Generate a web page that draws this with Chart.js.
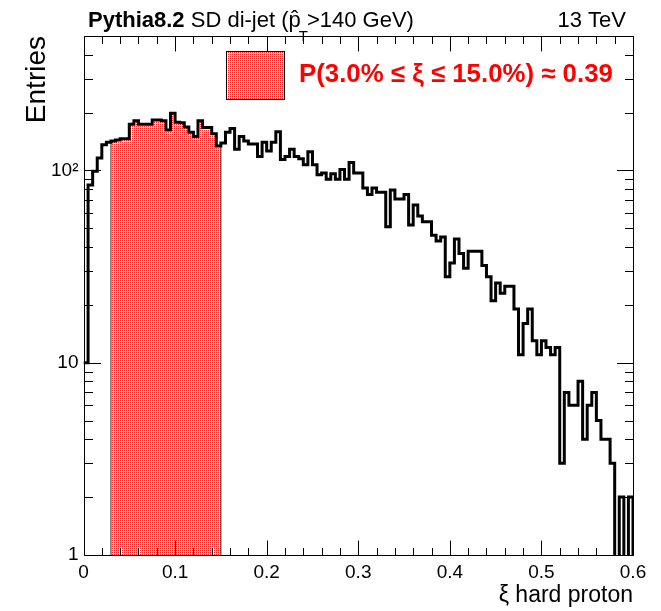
<!DOCTYPE html>
<html>
<head>
<meta charset="utf-8">
<script src="https://cdn.jsdelivr.net/npm/chart.js@4/dist/chart.umd.min.js"></script>
<style>
html,body{margin:0;padding:0;background:#fff;}
#wrap{width:661px;height:611px;position:relative;}
</style>
</head>
<body>
<div id="wrap"><canvas id="c" width="661" height="611"></canvas></div>
<script>
// ---------------- data ----------------
const xMin = 0, xMax = 0.6, binWidth = 0.005;
const counts = [
  10, 84, 99, 116, 136, 140, 142, 144, 146, 146,
  174, 181, 174, 174, 174, 183, 183, 181, 162, 198,
  178, 177, 168, 158, 150, 181, 167, 167, 155, 134,
  139, 158, 165, 129, 150, 142, 137, 137, 118, 140,
  126, 140, 159, 114, 118, 129, 118, 115, 107, 125,
  107, 95, 97, 90, 96, 90, 101, 90, 110, 97,
  97, 81, 75, 81, 77, 77, 51, 79, 71, 71,
  75, 52, 66, 58, 54, 54, 46, 43, 45, 28,
  33, 44, 37, 31, 38, 38, 38, 32, 28, 21,
  26, 23, 25, 25, 19, 11, 16, 19, 13, 11,
  13, 12, 11, 12, 3, 7, 6, 6, 8, 4,
  6, 7, 5, 4, 4, 3, 0, 2, 0, 2
];
const selLow = 0.03, selHigh = 0.15;
const xTickValues = [0, 0.1, 0.2, 0.3, 0.4, 0.5, 0.6];
const xTickLabels = ['0', '0.1', '0.2', '0.3', '0.4', '0.5', '0.6'];
const yTickValues = [1, 10, 100];
const yTickLabels = ['1', '10', '10²'];
const yMin = 1, yMax = 500;
const titleBold = 'Pythia8.2';
const titleRest = ' SD di-jet (';
const titleAfter = '>140 GeV)';
const energyLabel = '13 TeV';
const probLabel = 'P(3.0% \u2264 \u03BE \u2264 15.0%) \u2248 0.39';
const xTitle = '\u03BE hard proton';
const yTitle = 'Entries';

// ---------------- build ----------------
const FONT = '"Liberation Sans", Arial, Helvetica, sans-serif';
const edges = counts.map((_, i) => +(xMin + i * binWidth).toFixed(4));
const zeroDraw = 0.5; // zero bins drawn below the log-axis floor
const dv = v => (v > 0 ? v : zeroDraw);

const histPts = counts.map((v, i) => ({x: edges[i], y: dv(v)}));
histPts.push({x: xMax, y: dv(counts[counts.length - 1])});
histPts.push({x: xMax, y: zeroDraw});

const selPts = [];
counts.forEach((v, i) => {
  if (edges[i] >= selLow - 1e-9 && edges[i] < selHigh - 1e-9) {
    if (selPts.length === 0) selPts.push({x: edges[i], y: zeroDraw});
    selPts.push({x: edges[i], y: dv(v)});
  }
});
selPts.push({x: selHigh, y: selPts[selPts.length - 1].y});
selPts.push({x: selHigh, y: zeroDraw});

const ctx0 = document.getElementById('c').getContext('2d');
function makePattern() {
  const c = document.createElement('canvas');
  c.width = 2; c.height = 2;
  const g = c.getContext('2d');
  g.fillStyle = '#ffeeee'; g.fillRect(0, 0, 2, 2);
  g.fillStyle = '#ff2020'; g.fillRect(0, 0, 1, 1);
  return ctx0.createPattern(c, 'repeat');
}
const redPattern = makePattern();

const px = v => Math.round(v) + 0.5;

const decor = {
  id: 'decor',
  afterDatasetsDraw(chart) {
    const {ctx, chartArea: a, scales: {x, y}} = chart;
    ctx.save();
    ctx.strokeStyle = '#000';
    ctx.lineWidth = 1;
    const L = px(a.left), R = px(a.right), T = px(a.top), B = px(a.bottom);
    ctx.beginPath();
    ctx.rect(L, T, R - L, B - T);
    ctx.stroke();
    // x ticks (inside, bottom and top)
    ctx.beginPath();
    for (let i = 0; i <= 30; i++) {
      const v = i * 0.02;
      const major = i % 5 === 0;
      const p = px(x.getPixelForValue(v));
      const len = major ? 15 : 7.5;
      ctx.moveTo(p, B); ctx.lineTo(p, B - len);
      ctx.moveTo(p, T); ctx.lineTo(p, T + len);
    }
    // y ticks (inside, left and right)
    for (let e = 0; e <= 2; e++) {
      for (let d = 1; d <= 9; d++) {
        const v = d * Math.pow(10, e);
        if (v > yMax) continue;
        const p = px(y.getPixelForValue(v));
        const len = d === 1 ? 16.5 : 8.5;
        ctx.moveTo(L, p); ctx.lineTo(L + len, p);
        ctx.moveTo(R, p); ctx.lineTo(R - len, p);
      }
    }
    ctx.stroke();
    ctx.restore();
  },
  afterDraw(chart) {
    const {ctx} = chart;
    ctx.save();
    // title
    ctx.fillStyle = '#000';
    ctx.textBaseline = 'alphabetic';
    ctx.textAlign = 'left';
    const by = 27;
    let xx = 88;
    ctx.font = 'bold 22px ' + FONT;
    ctx.fillText(titleBold, xx, by);
    xx += ctx.measureText(titleBold).width;
    ctx.font = '22px ' + FONT;
    ctx.fillText(titleRest, xx, by);
    xx += ctx.measureText(titleRest).width;
    const pw = ctx.measureText('p').width;
    ctx.fillText('p', xx, by);
    ctx.textAlign = 'center';
    ctx.fillText('\u02C6', xx + pw / 2, by - 1);
    ctx.textAlign = 'left';
    ctx.font = '15px ' + FONT;
    ctx.fillText('T', xx + pw - 2, by + 14);
    const tw = ctx.measureText('T').width;
    xx += pw + tw - 3;
    ctx.font = '22px ' + FONT;
    ctx.fillText(titleAfter, xx, by);
    ctx.textAlign = 'right';
    ctx.fillText(energyLabel, 626, by);
    // legend box
    ctx.fillStyle = redPattern;
    ctx.fillRect(226.5, 51.5, 58, 48);
    ctx.strokeStyle = '#000';
    ctx.lineWidth = 1;
    ctx.strokeRect(226.5, 51.5, 58, 48);
    // legend text
    ctx.textAlign = 'left';
    ctx.fillStyle = '#ff0000';
    let fs = 25;
    ctx.font = 'bold ' + fs + 'px ' + FONT;
    const w = ctx.measureText(probLabel).width;
    fs = fs * 314 / w;
    ctx.font = 'bold ' + fs.toFixed(2) + 'px ' + FONT;
    ctx.fillText(probLabel, 299, 82);
    ctx.restore();
  }
};

new Chart(ctx0, {
  type: 'line',
  data: {
    datasets: [
      {
        label: 'hist',
        data: histPts,
        stepped: 'before',
        borderColor: '#000',
        borderWidth: 3,
        borderJoinStyle: 'miter',
        borderCapStyle: 'butt',
        pointRadius: 0,
        fill: false,
        order: 0
      },
      {
        label: 'selection',
        data: selPts,
        stepped: 'before',
        borderColor: '#222',
        borderWidth: 1,
        pointRadius: 0,
        backgroundColor: redPattern,
        fill: 'start',
        order: 1
      }
    ]
  },
  options: {
    responsive: false,
    animation: false,
    events: [],
    layout: {padding: {top: 36, right: 28, left: 0, bottom: 0}},
    plugins: {legend: {display: false}, tooltip: {enabled: false}, title: {display: false}},
    scales: {
      x: {
        type: 'linear',
        min: xMin,
        max: xMax,
        afterBuildTicks: s => { s.ticks = xTickValues.map(v => ({value: v})); },
        afterFit: s => { s.height = 56; },
        grid: {display: false, drawTicks: false},
        border: {display: false},
        ticks: {
          autoSkip: false,
          maxRotation: 0,
          padding: 6,
          color: '#000',
          font: {family: FONT, size: 19},
          callback: (v) => { const i = xTickValues.findIndex(t => Math.abs(t - v) < 1e-9); return i >= 0 ? xTickLabels[i] : ''; }
        },
        title: {display: true, text: xTitle, align: 'end', color: '#000', font: {family: FONT, size: 23}, padding: {top: 0, bottom: 2}}
      },
      y: {
        type: 'logarithmic',
        min: yMin,
        max: yMax,
        afterBuildTicks: s => { s.ticks = yTickValues.map(v => ({value: v})); },
        afterFit: s => { s.width = 83.5; },
        grid: {display: false, drawTicks: false},
        border: {display: false},
        ticks: {
          autoSkip: false,
          padding: 5,
          color: '#000',
          font: {family: FONT, size: 19},
          callback: (v) => { const i = yTickValues.indexOf(v); return i >= 0 ? yTickLabels[i] : ''; }
        },
        title: {display: true, text: yTitle, align: 'end', color: '#000', font: {family: FONT, size: 28}, padding: {top: 20.5, bottom: 0}}
      }
    }
  },
  plugins: [decor]
});
</script>
</body>
</html>
